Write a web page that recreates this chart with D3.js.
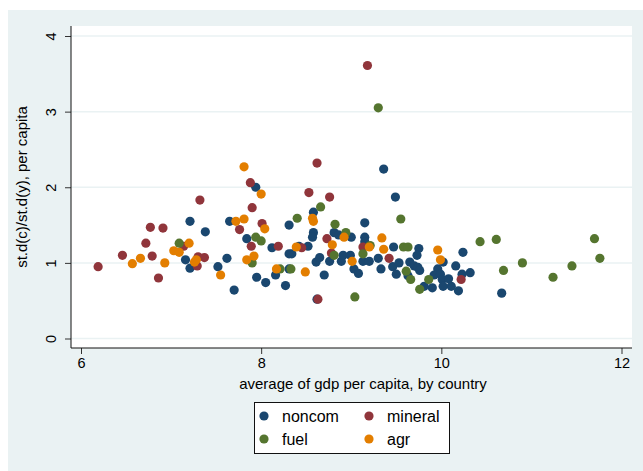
<!DOCTYPE html>
<html>
<head>
<meta charset="utf-8">
<script src="https://cdn.jsdelivr.net/npm/d3@7"></script>
<style>
    body { margin: 0; background: white; }
    text { font-family: "Liberation Sans", Arial, sans-serif; fill: #000; }
</style>
</head>
<body>
<div id="chart"></div>
<script>
const noncom = [[7.94,2.00],[7.21,1.55],[7.65,1.55],[7.38,1.41],[7.84,1.32],[7.16,1.04],[7.62,1.06],[7.52,0.95],[7.21,0.93],[7.95,0.81],[7.70,0.64],[9.36,2.24],[9.49,1.87],[8.58,1.67],[8.31,1.50],[9.15,1.53],[8.58,1.40],[8.57,1.34],[8.81,1.40],[8.86,1.37],[9.00,1.34],[9.15,1.34],[8.12,1.20],[8.42,1.22],[8.52,1.22],[9.15,1.28],[9.47,1.21],[8.31,1.12],[8.34,1.12],[8.05,0.74],[8.16,0.84],[8.31,0.92],[8.27,0.70],[8.61,1.01],[8.65,1.07],[8.70,0.84],[8.76,1.02],[8.89,1.02],[8.91,1.10],[8.99,1.10],[9.03,0.92],[9.08,0.86],[9.13,1.02],[9.20,1.02],[9.30,1.06],[9.33,0.92],[9.46,0.95],[9.50,0.85],[9.53,1.00],[8.62,0.52],[9.75,1.19],[9.73,1.10],[9.65,1.01],[9.70,0.96],[9.74,0.94],[9.76,0.90],[9.63,0.83],[10.02,1.01],[9.96,0.92],[9.92,0.84],[9.99,0.85],[10.01,0.78],[10.08,0.79],[10.02,0.69],[10.11,0.69],[10.19,0.63],[10.16,0.96],[10.23,0.85],[10.32,0.87],[9.90,0.67],[9.81,0.69],[10.24,1.14],[10.67,0.60]]

const mineral = [[9.18,3.61],[8.62,2.32],[7.88,2.06],[7.32,1.83],[7.90,1.73],[8.53,1.93],[8.76,1.87],[8.01,1.52],[7.76,1.44],[6.77,1.47],[6.91,1.46],[6.72,1.26],[7.14,1.22],[7.89,1.22],[6.46,1.10],[6.79,1.09],[7.30,1.08],[7.37,1.07],[7.29,0.96],[6.86,0.80],[6.19,0.95],[8.73,1.32],[8.19,1.22],[8.45,1.20],[8.78,1.13],[9.13,1.21],[9.42,1.06],[8.63,0.52],[10.22,0.78]]

const fuel = [[9.30,3.05],[8.66,1.74],[8.40,1.59],[8.82,1.51],[9.55,1.58],[7.94,1.34],[8.00,1.29],[7.09,1.26],[7.90,1.00],[8.94,1.40],[9.21,1.23],[8.21,0.92],[8.33,0.92],[8.81,1.10],[9.13,1.12],[9.04,0.55],[9.58,1.21],[9.63,1.21],[9.61,0.89],[9.66,0.78],[9.86,0.78],[9.76,0.65],[10.43,1.28],[10.61,1.31],[10.69,0.90],[10.90,1.00],[11.24,0.81],[11.45,0.96],[11.70,1.32],[11.76,1.06]]

const agr = [[7.81,2.27],[8.00,1.91],[7.72,1.55],[7.81,1.58],[8.04,1.45],[7.20,1.26],[7.03,1.16],[7.09,1.14],[6.66,1.06],[6.57,0.99],[6.93,1.00],[7.28,1.04],[7.26,1.01],[7.92,1.09],[7.84,1.04],[7.55,0.84],[8.57,1.59],[8.58,1.55],[8.92,1.34],[9.34,1.33],[8.39,1.21],[8.79,1.24],[9.20,1.21],[9.36,1.18],[9.01,1.02],[8.17,0.92],[8.49,0.88],[9.96,1.17],[9.99,1.04]]

const seriesNames = ['noncom', 'mineral', 'fuel', 'agr']
const seriesColors = ['#1a476f', '#90353b', '#55752f', '#e37e00']
const xTicks = [6, 8, 10, 12]
const yTicks = [0, 1, 2, 3, 4]

function drawChart() {
    const width = 643
    const height = 471
    const frame = { left: 71, right: 632, top: 26, bottom: 348 }

    const svg = d3.select('#chart')
        .append('svg')
        .attr('width', width)
        .attr('height', height)

    // outer graph region
    svg.append('rect')
        .attr('x', 8).attr('y', 10)
        .attr('width', width - 8).attr('height', height - 10)
        .attr('fill', '#eaf2f3')

    svg.append('rect')
        .attr('x', frame.left).attr('y', frame.top)
        .attr('width', frame.right - frame.left)
        .attr('height', frame.bottom - frame.top)
        .attr('fill', 'white')

    const xScale = d3.scaleLinear()
        .domain([6, 12])
        .range([frame.left + 10, frame.right - 10.5])

    const yScale = d3.scaleLinear()
        .domain([0, 4])
        .range([frame.bottom - 9.5, frame.top + 10])

    // gridlines
    svg.append('g')
        .selectAll('line')
        .data(yTicks)
        .enter().append('line')
        .attr('x1', frame.left).attr('x2', frame.right)
        .attr('y1', d => yScale(d)).attr('y2', d => yScale(d))
        .attr('stroke', '#eaf2f3')
        .attr('stroke-width', 1.5)

    // axes
    const yAxis = d3.axisLeft(yScale)
        .tickValues(yTicks)
        .tickSize(6)
        .tickPadding(8)
        .tickFormat(d3.format('d'))

    const yAxisGroup = svg.append('g')
        .attr('transform', `translate(${frame.left}, 0)`)
        .call(yAxis)
    yAxisGroup.select('.domain').remove()
    yAxisGroup.selectAll('.tick line').attr('stroke', '#333')
    yAxisGroup.selectAll('.tick text')
        .attr('font-size', 14.5)
        .attr('x', null).attr('dy', null)
        .style('text-anchor', 'middle')
        .attr('transform', 'translate(-15, 0) rotate(-90)')

    const xAxis = d3.axisBottom(xScale)
        .tickValues(xTicks)
        .tickSize(6)
        .tickPadding(4)
        .tickFormat(d3.format('d'))

    const xAxisGroup = svg.append('g')
        .attr('transform', `translate(0, ${frame.bottom})`)
        .call(xAxis)
    xAxisGroup.select('.domain').remove()
    xAxisGroup.selectAll('.tick line').attr('stroke', '#333')
    xAxisGroup.selectAll('.tick text').attr('font-size', 14.5)

    svg.append('line')
        .attr('x1', frame.left).attr('x2', frame.left)
        .attr('y1', frame.top).attr('y2', frame.bottom)
        .attr('stroke', '#111')
    svg.append('line')
        .attr('x1', frame.left).attr('x2', frame.right)
        .attr('y1', frame.bottom).attr('y2', frame.bottom)
        .attr('stroke', '#111')

    svg.append('text')
        .attr('x', 363)
        .attr('y', 389)
        .attr('font-size', 15)
        .style('text-anchor', 'middle')
        .text('average of gdp per capita, by country')

    svg.append('text')
        .attr('transform', `translate(27, ${(frame.top + frame.bottom) / 2}) rotate(-90)`)
        .attr('font-size', 15)
        .style('text-anchor', 'middle')
        .text('st.d(c)/st.d(y), per capita')

    // points
    const allSeries = [noncom, mineral, fuel, agr]
    allSeries.forEach((series, i) => {
        svg.append('g')
            .attr('class', seriesNames[i])
            .selectAll('circle')
            .data(series)
            .enter().append('circle')
            .attr('cx', d => xScale(d[0]))
            .attr('cy', d => yScale(d[1]))
            .attr('r', 4.6)
            .attr('fill', seriesColors[i])
    })

    // legend
    const legend = svg.append('g')
        .attr('transform', 'translate(254, 402)')

    legend.append('rect')
        .attr('x', 0.5).attr('y', 0.5)
        .attr('width', 195).attr('height', 51)
        .attr('fill', 'white')
        .attr('stroke', '#111')

    const items = legend.selectAll('.legend-item')
        .data(seriesNames)
        .enter().append('g')
        .attr('class', 'legend-item')
        .attr('transform', (d, i) => `translate(${10 + (i % 2) * 105}, ${14 + Math.floor(i / 2) * 23})`)

    items.append('circle')
        .attr('r', 4.6)
        .attr('fill', (d, i) => seriesColors[i])

    items.append('text')
        .attr('x', 18)
        .attr('y', 5.5)
        .attr('font-size', 16)
        .text(d => d)
}

drawChart()
</script>
</body>
</html>
